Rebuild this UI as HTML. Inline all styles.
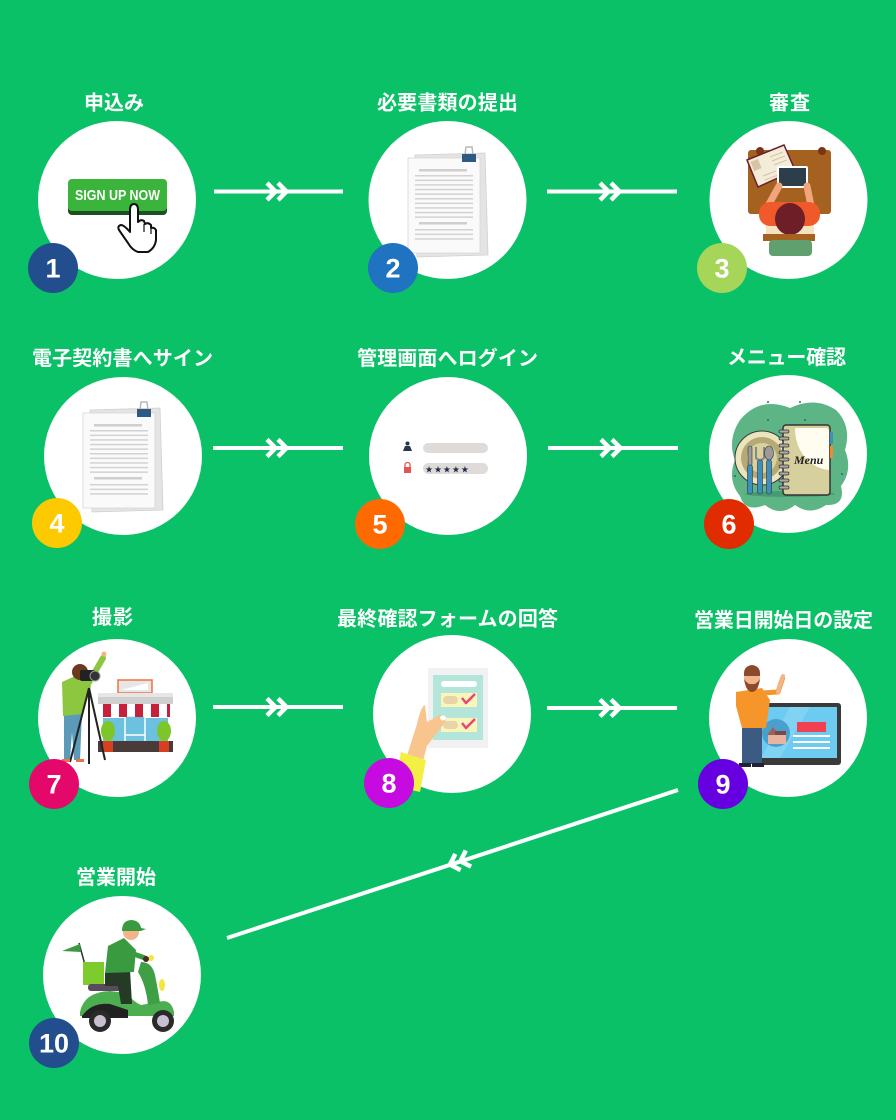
<!DOCTYPE html>
<html><head><meta charset="utf-8"><style>
html,body{margin:0;padding:0;background:#0bc168;}
svg{display:block;}
.t{font-family:"Liberation Sans","Noto Sans CJK JP",sans-serif;font-weight:bold;font-size:20px;fill:#fff;}
.n{font-family:"Liberation Sans",sans-serif;font-weight:bold;font-size:27px;fill:#fff;}
</style></head><body>
<svg width="896" height="1120" viewBox="0 0 896 1120" xmlns="http://www.w3.org/2000/svg">
<defs>
<g id="chev" fill="none" stroke="#fff" stroke-width="4.5" stroke-linejoin="miter">
<polyline points="-11,-8.5 -2.5,0 -11,8.5"/>
<polyline points="0,-8.5 8.5,0 0,8.5"/>
</g>
<g id="doc">
<polygon points="90,410 160,408 163,510 92,512" fill="#e4e4e4" stroke="#d0d0d0" stroke-width="0.8"/>
<rect x="83" y="413" width="72" height="95" fill="#fafafa" stroke="#d6d6d6" stroke-width="0.8"/>
<rect x="94" y="424" width="48" height="2.5" fill="#cfcfcf"/>
<g fill="#d2d2d2">
<rect x="90" y="430" width="58" height="1.5"/><rect x="90" y="434.6" width="58" height="1.5"/>
<rect x="90" y="439.2" width="58" height="1.5"/><rect x="90" y="443.8" width="58" height="1.5"/>
<rect x="90" y="448.4" width="58" height="1.5"/><rect x="90" y="453" width="58" height="1.5"/>
<rect x="90" y="457.6" width="58" height="1.5"/><rect x="90" y="462.2" width="58" height="1.5"/>
<rect x="90" y="466.8" width="58" height="1.5"/><rect x="90" y="471.4" width="58" height="1.5"/>
<rect x="94" y="477" width="48" height="2.5" fill="#cfcfcf"/>
<rect x="90" y="484" width="58" height="1.5"/><rect x="90" y="488.6" width="58" height="1.5"/>
<rect x="90" y="493.2" width="58" height="1.5"/>
</g>
<path d="M140,410 L141,402 L147,402 L148,410" fill="none" stroke="#b8b8b8" stroke-width="1.5"/>
<rect x="137" y="409" width="14" height="8" fill="#2d5a82"/>
</g>
</defs>

<rect width="896" height="1120" fill="#0bc168"/>

<!-- connectors -->
<g stroke="#fff" stroke-width="4">
<line x1="214" y1="191.5" x2="343" y2="191.5"/>
<line x1="547" y1="191.5" x2="677" y2="191.5"/>
<line x1="213" y1="448" x2="343" y2="448"/>
<line x1="548" y1="448" x2="678" y2="448"/>
<line x1="213" y1="707" x2="343" y2="707"/>
<line x1="547" y1="708" x2="677" y2="708"/>
<line x1="678" y1="790" x2="227" y2="938"/>
</g>
<use href="#chev" transform="translate(278,191.5)"/>
<use href="#chev" transform="translate(611,191.5)"/>
<use href="#chev" transform="translate(278,448)"/>
<use href="#chev" transform="translate(612,448)"/>
<use href="#chev" transform="translate(278,707)"/>
<use href="#chev" transform="translate(611,708)"/>
<use href="#chev" transform="translate(458,862) rotate(161.8)"/>

<!-- titles -->
<text class="t" x="114" y="109.5" text-anchor="middle" textLength="60">申込み</text>
<text class="t" x="447.5" y="109.5" text-anchor="middle" textLength="141">必要書類の提出</text>
<text class="t" x="789.5" y="109.5" text-anchor="middle" textLength="41">審査</text>
<text class="t" x="122.5" y="365" text-anchor="middle" textLength="181">電子契約書へサイン</text>
<text class="t" x="447.5" y="365" text-anchor="middle" textLength="181">管理画面へログイン</text>
<text class="t" x="786.5" y="364" text-anchor="middle" textLength="119">メニュー確認</text>
<text class="t" x="112.5" y="624" text-anchor="middle" textLength="41">撮影</text>
<text class="t" x="447.5" y="625.5" text-anchor="middle" textLength="221">最終確認フォームの回答</text>
<text class="t" x="783.5" y="627" text-anchor="middle" textLength="179">営業日開始日の設定</text>
<text class="t" x="116" y="884" text-anchor="middle" textLength="80">営業開始</text>

<!-- circles -->
<g fill="#fff">
<circle cx="117" cy="200" r="79"/>
<circle cx="447.5" cy="200" r="79"/>
<circle cx="788.5" cy="200" r="79"/>
<circle cx="123" cy="456" r="79"/>
<circle cx="448" cy="456" r="79"/>
<circle cx="788" cy="454" r="79"/>
<circle cx="117" cy="718" r="79"/>
<circle cx="452" cy="714" r="79"/>
<circle cx="788" cy="718" r="79"/>
<circle cx="122" cy="975" r="79"/>
</g>

<!-- 1 sign up -->
<rect x="68" y="181" width="99" height="34" rx="4" fill="#1d4f20"/>
<rect x="68" y="179" width="99" height="32" rx="4" fill="#3ab43a"/>
<text x="117.5" y="200" text-anchor="middle" font-family="Liberation Sans, sans-serif" font-weight="bold" font-size="15" fill="#fff" textLength="85" lengthAdjust="spacingAndGlyphs">SIGN UP NOW</text>
<path d="M130,210 Q130,204 134,204 Q138,204 138,210 L138,222 Q141,219 144,221 L145,224 Q148,222 151,225 L151,228 Q154,227 156,230 L156,240 Q155,248 148,252 L138,252 Q132,250 128,243 L119,230 Q117,226 121,225 Q124,225 130,232 Z" fill="#fff" stroke="#111" stroke-width="2" stroke-linejoin="round"/>
<path d="M144,224 L144,232 M151,228 L151,234" stroke="#111" stroke-width="1.2"/>

<!-- 2 docs -->
<use href="#doc" transform="translate(325,-255)"/>

<!-- 3 review -->
<rect x="748" y="150" width="83" height="64" rx="3" fill="#a5611f"/>
<circle cx="760" cy="151" r="4" fill="#7a3418"/><circle cx="822" cy="151" r="4" fill="#7a3418"/>
<polygon points="747,160 784,145 795,170 758,187" fill="#f3ecd8" stroke="#6b1f2a" stroke-width="1.5"/>
<rect x="752" y="160" width="8" height="10" fill="#d8c4a4" transform="rotate(-22 756 165)"/>
<g stroke="#d8c4a4" stroke-width="1"><line x1="770" y1="157" x2="783" y2="152"/><line x1="772" y1="161" x2="785" y2="156"/><line x1="774" y1="165" x2="787" y2="160"/><line x1="763" y1="176" x2="776" y2="171"/><line x1="765" y1="180" x2="778" y2="175"/></g>
<rect x="777" y="166" width="31" height="22" rx="2" fill="#fff"/>
<rect x="779" y="168" width="27" height="18" fill="#2c3e4c"/>
<g stroke="#f2a57c" stroke-width="7" stroke-linecap="round"><line x1="768" y1="206" x2="779" y2="186"/><line x1="811" y1="206" x2="807" y2="186"/></g>
<rect x="766" y="225" width="48" height="10" fill="#f3e3c0"/>
<rect x="759" y="202" width="61" height="24" rx="11" fill="#f05a2a"/>
<ellipse cx="790" cy="219" rx="15" ry="16" fill="#6d1e27"/>
<rect x="763" y="234" width="52" height="7" fill="#a5611f"/>
<rect x="769" y="240" width="43" height="16" rx="4" fill="#5fa06e"/>

<!-- 4 docs -->
<use href="#doc"/>

<!-- 5 login -->
<rect x="423" y="443" width="65" height="10" rx="5" fill="#dfdbd8"/>
<rect x="423" y="463" width="65" height="11" rx="5.5" fill="#dfdbd8"/>
<circle cx="407.5" cy="443.5" r="2" fill="#2b3550"/>
<path d="M403,451 L405,446 L410,446 L412,451 Z" fill="#2b3550"/>
<path d="M405,467 V465 A2.5,2.5 0 0 1 410,465 V467" fill="none" stroke="#e45454" stroke-width="1.3"/>
<rect x="404" y="467" width="7" height="6" fill="#e45454"/>
<text x="425" y="472.5" font-family="DejaVu Sans,sans-serif" font-size="9" fill="#1e2b4a" letter-spacing="0.9">★★★★★</text>

<!-- 6 menu -->
<path d="M740,420 Q760,396 790,408 Q815,396 836,410 Q852,426 845,450 Q853,470 841,486 Q846,506 826,505 Q810,516 795,505 Q780,517 765,505 Q745,513 740,496 Q727,480 735,460 Q727,440 740,420 Z" fill="#5db585"/>
<g fill="#2e6a6a"><circle cx="768" cy="402" r="1"/><circle cx="800" cy="402" r="1"/><circle cx="768" cy="420" r="1"/><circle cx="805" cy="420" r="1"/><circle cx="842" cy="474" r="1"/><circle cx="735" cy="476" r="1"/></g>
<circle cx="762" cy="458" r="27" fill="#ebe4bc" stroke="#3a3a3a" stroke-width="1"/>
<circle cx="762" cy="458" r="21" fill="#b3aa76"/>
<circle cx="762" cy="458" r="15" fill="#d8d19c"/>
<ellipse cx="790" cy="494" rx="45" ry="3" fill="#3a8a60" opacity="0.6"/>
<rect x="748" y="446" width="4" height="20" rx="2" fill="#9a9a9a" stroke="#333" stroke-width="0.6"/>
<rect x="747.5" y="465" width="5" height="29" rx="2" fill="#3d8fc0" stroke="#333" stroke-width="0.6"/>
<path d="M756,447 V458 Q760,462 764,458 V447" fill="none" stroke="#888" stroke-width="2"/>
<rect x="757.5" y="460" width="5" height="34" rx="2" fill="#3d8fc0" stroke="#333" stroke-width="0.6"/>
<ellipse cx="769" cy="453" rx="4.5" ry="7" fill="#9a9a9a" stroke="#333" stroke-width="0.6"/>
<rect x="766.5" y="460" width="5" height="34" rx="2" fill="#3d8fc0" stroke="#333" stroke-width="0.6"/>
<rect x="783" y="425" width="47" height="70" rx="3" fill="#d6cf9e" stroke="#333" stroke-width="1.5"/>
<path d="M795,428 H826 Q829,428 829,432 V470 Q810,468 800,450 Q795,440 795,428 Z" fill="#fffdf0"/>
<rect x="830" y="432" width="3" height="12" fill="#3d8fc0"/>
<rect x="830" y="446" width="3" height="12" fill="#f08a30"/>
<g fill="#aaa" stroke="#333" stroke-width="0.7">
<rect x="779" y="430" width="10" height="3" rx="1.5"/><rect x="779" y="437" width="10" height="3" rx="1.5"/><rect x="779" y="444" width="10" height="3" rx="1.5"/><rect x="779" y="451" width="10" height="3" rx="1.5"/><rect x="779" y="458" width="10" height="3" rx="1.5"/><rect x="779" y="465" width="10" height="3" rx="1.5"/><rect x="779" y="472" width="10" height="3" rx="1.5"/><rect x="779" y="479" width="10" height="3" rx="1.5"/><rect x="779" y="486" width="10" height="3" rx="1.5"/>
</g>
<text x="794" y="464" font-family="Liberation Serif,serif" font-style="italic" font-weight="bold" font-size="12" fill="#222">Menu</text>

<!-- 7 photographer & shop -->
<rect x="118" y="680" width="34" height="13" fill="#e6e6e6" stroke="#f07040" stroke-width="1.5"/>
<polygon points="121,690 148,683 148,690" fill="#fff"/>
<rect x="98" y="693" width="75" height="4" fill="#e6e6e6"/>
<rect x="98" y="697" width="75" height="7" fill="#cfcfcf"/>
<rect x="103" y="718" width="65" height="24" fill="#6cc0e0"/>
<rect x="125" y="716" width="20" height="36" fill="#6cc0e0" stroke="#fff" stroke-width="1.5"/>
<line x1="125" y1="735" x2="145" y2="735" stroke="#fff" stroke-width="1.5"/>
<g>
<rect x="103" y="704" width="65" height="12" fill="#fff"/>
<rect x="103" y="704" width="8" height="13" fill="#c8203a"/>
<rect x="119" y="704" width="8" height="13" fill="#c8203a"/>
<rect x="135" y="704" width="8" height="13" fill="#c8203a"/>
<rect x="151" y="704" width="8" height="13" fill="#c8203a"/>
<rect x="167" y="704" width="3" height="13" fill="#c8203a"/>
</g>
<rect x="98" y="741" width="75" height="11" fill="#4a3b3b"/>
<ellipse cx="108" cy="731" rx="7" ry="10" fill="#7cc62a"/>
<rect x="103" y="741" width="10" height="11" fill="#d64020"/>
<ellipse cx="164" cy="731" rx="7" ry="10" fill="#7cc62a"/>
<rect x="159" y="741" width="10" height="11" fill="#d64020"/>
<polygon points="64,712 82,712 80,760 74,760 72,732 70,760 64,760" fill="#5b9bb9"/>
<polygon points="62,682 84,672 92,676 90,692 82,714 63,716" fill="#8dc63f"/>
<line x1="88" y1="684" x2="103" y2="658" stroke="#8dc63f" stroke-width="6" stroke-linecap="round"/>
<circle cx="104" cy="654" r="2.5" fill="#f2b48a"/>
<circle cx="80" cy="672" r="8" fill="#6b3a1e"/>
<rect x="80" y="670" width="15" height="11" rx="2" fill="#222"/>
<circle cx="95" cy="676" r="5" fill="#333" stroke="#999" stroke-width="1"/>
<g stroke="#222" stroke-width="2"><line x1="89" y1="688" x2="70" y2="762"/><line x1="89" y1="688" x2="89" y2="764"/><line x1="89" y1="688" x2="105" y2="760"/></g>
<rect x="62" y="759" width="8" height="3" fill="#f07040"/><rect x="76" y="759" width="8" height="3" fill="#f07040"/>

<!-- 8 form -->
<rect x="428" y="668" width="60" height="80" fill="#f1f1f1"/>
<rect x="433" y="675" width="50" height="65" fill="#b3e5da"/>
<rect x="441" y="681" width="36" height="6" rx="3" fill="#fff"/>
<rect x="441" y="693" width="36" height="14" fill="#faf6b8"/>
<rect x="441" y="718" width="36" height="14" fill="#faf6b8"/>
<rect x="443" y="696" width="15" height="8" rx="4" fill="#e8d4a8"/>
<rect x="443" y="721" width="15" height="8" rx="4" fill="#e8d4a8"/>
<g fill="none" stroke="#e8457a" stroke-width="2.5" stroke-linejoin="round"><polyline points="462,698 466,703 475,694"/><polyline points="462,723 466,728 475,719"/></g>
<path d="M405,762 L417,724 Q421,706 425,705 L427,722 L440,715 Q448,714 445,722 L427,746 L420,772 Z" fill="#f8c58e"/>
<ellipse cx="443" cy="718" rx="3" ry="2.5" fill="#fff"/>
<polygon points="401,752 426,760 420,792 394,786" fill="#f3ef45"/>

<!-- 9 man & screen -->
<rect x="757" y="703" width="84" height="62" rx="3" fill="#3a3a3a"/>
<rect x="761" y="707" width="76" height="51" fill="#6dcbf1"/>
<polygon points="790,707 810,707 780,758 761,758" fill="#8ad6f5" opacity="0.7"/>
<rect x="797" y="722" width="29" height="10" fill="#f04052"/>
<g fill="#fff"><rect x="793" y="735" width="37" height="2"/><rect x="793" y="741" width="37" height="2"/><rect x="793" y="747" width="37" height="2"/></g>
<circle cx="776" cy="733" r="14" fill="#4aa0cc"/>
<polygon points="767,735 773,727 779,735" fill="#a0605a"/>
<rect x="768" y="735" width="18" height="9" fill="#e8b4a0"/>
<rect x="775" y="731" width="11" height="4" fill="#7a4a4a"/>
<rect x="742" y="726" width="20" height="38" fill="#3b5b82"/>
<rect x="739" y="763" width="12" height="4" fill="#223"/><rect x="752" y="763" width="12" height="4" fill="#223"/>
<polygon points="736,692 762,688 770,700 766,728 742,728 736,706" fill="#f5952a"/>
<path d="M762,693 L778,692 L783,677" fill="none" stroke="#f5952a" stroke-width="5" stroke-linejoin="round"/>
<line x1="778" y1="692" x2="783" y2="676" stroke="#f2b48a" stroke-width="4" stroke-linecap="round"/>
<circle cx="752" cy="678" r="8" fill="#f2b48a"/>
<path d="M744,676 Q743,666 752,665 Q761,666 760,676 Z" fill="#8b4a2a"/>
<path d="M744,679 Q746,692 752,692 Q758,692 760,679 Q756,685 752,684 Q748,685 744,679 Z" fill="#8b4a2a"/>

<!-- 10 scooter -->
<line x1="79" y1="943" x2="85" y2="965" stroke="#333" stroke-width="1.5"/>
<polygon points="62,951 80,944 81,952" fill="#3a9a40"/>
<rect x="83" y="962" width="21" height="23" fill="#7dcc2e"/>
<rect x="88" y="984" width="35" height="7" rx="3" fill="#5a4a5e"/>
<path d="M80,1012 Q84,992 110,991 L126,993 Q134,1002 141,1005 L158,1002 Q171,998 174,1012 L174,1016 L80,1016 Z" fill="#4bae4f"/>
<path d="M141,962 Q152,962 155,975 Q158,990 160,1003 L148,1005 Q146,985 138,972 Z" fill="#3f9f44"/>
<path d="M82,1016 Q92,1002 110,1004 L128,1010 L128,1018 L82,1018 Z" fill="#222"/>
<circle cx="100" cy="1021" r="11" fill="#2a2a2a"/><circle cx="100" cy="1021" r="6" fill="#c8c0d0"/>
<circle cx="163" cy="1021" r="11" fill="#2a2a2a"/><circle cx="163" cy="1021" r="6" fill="#c8c0d0"/>
<ellipse cx="162" cy="985" rx="3" ry="6" fill="#f2e640"/>
<ellipse cx="151" cy="958" rx="3" ry="3" fill="#f2e640"/>
<polygon points="105,972 130,970 132,1004 121,1004 118,986 105,986" fill="#253b25"/>
<polygon points="108,946 124,938 136,950 134,972 105,973" fill="#3a9a40"/>
<line x1="128" y1="952" x2="145" y2="958" stroke="#3a9a40" stroke-width="5" stroke-linecap="round"/>
<circle cx="146" cy="959" r="3" fill="#4a2a2a"/>
<circle cx="131" cy="932" r="8" fill="#f2b48a"/>
<path d="M122,931 Q122,920 132,920 Q140,921 141,928 L146,929 L141,931 Z" fill="#3a9a40"/>

<!-- badges -->
<circle cx="53" cy="268" r="25" fill="#234e8e"/><text class="n" x="53" y="277.5" text-anchor="middle">1</text>
<circle cx="393" cy="268" r="25" fill="#1f73c1"/><text class="n" x="393" y="277.5" text-anchor="middle">2</text>
<circle cx="722" cy="268" r="25" fill="#a5d65a"/><text class="n" x="722" y="277.5" text-anchor="middle">3</text>
<circle cx="57" cy="523" r="25" fill="#fdc900"/><text class="n" x="57" y="532.5" text-anchor="middle">4</text>
<circle cx="380" cy="524" r="25" fill="#ff6a00"/><text class="n" x="380" y="533.5" text-anchor="middle">5</text>
<circle cx="729" cy="524" r="25" fill="#e12b00"/><text class="n" x="729" y="533.5" text-anchor="middle">6</text>
<circle cx="54" cy="784" r="25" fill="#e3086a"/><text class="n" x="54" y="793.5" text-anchor="middle">7</text>
<circle cx="389" cy="783" r="25" fill="#c50be0"/><text class="n" x="389" y="792.5" text-anchor="middle">8</text>
<circle cx="723" cy="784" r="25" fill="#6600e0"/><text class="n" x="723" y="793.5" text-anchor="middle">9</text>
<circle cx="54" cy="1043" r="25" fill="#234e8e"/><text class="n" x="54" y="1052.5" text-anchor="middle">10</text>
</svg>
</body></html>
